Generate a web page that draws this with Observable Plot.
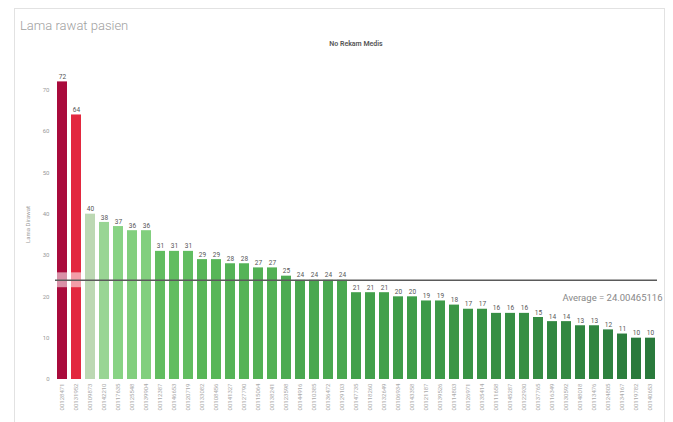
<!DOCTYPE html>
<html>
<head>
<meta charset="utf-8">
<script src="https://cdn.jsdelivr.net/npm/d3@7"></script>
<script src="https://cdn.jsdelivr.net/npm/@observablehq/plot@0.6"></script>
<style>
  html, body { margin: 0; padding: 0; background: #fff; }
  #wrap { position: relative; width: 673px; height: 422px; overflow: hidden; font-family: Roboto, "Open Sans", sans-serif; }
  #frame { position: absolute; left: 14px; top: 8px; width: 651px; height: 420px; border: 1px solid #e2e2e2; box-sizing: border-box; }
  #title { position: absolute; left: 20px; top: 18px; font-size: 13px; font-weight: 300; color: #a0a0a0; }
  #subtitle { position: absolute; left: 0; width: 712px; top: 40px; text-align: center; font-size: 7px; font-weight: 600; color: #555; }
  #chart { position: absolute; left: 0; top: 55px; }
</style>
</head>
<body>
<div id="wrap">
  <div id="frame"></div>
  <div id="title">Lama rawat pasien</div>
  <div id="subtitle">No Rekam Medis</div>
  <div id="chart"></div>
</div>
<script>
const categories = [
  "00128471","00131952","00109873","00142210","00117635","00125548","00139904",
  "00112387","00146653","00120719","00133082","00108456","00141327","00127790",
  "00115064","00138241","00123598","00144916","00110385","00136472","00129103",
  "00147735","00118260","00132649","00106934","00143358","00121187","00139526",
  "00114803","00126971","00135414","00111658","00145287","00122930","00137765",
  "00116349","00130592","00148018","00113476","00124805","00134167","00119782",
  "00140653"
];
const values = [
  72, 64, 40, 38, 37, 36, 36, 31, 31, 31, 29, 29, 28, 28, 27, 27, 25,
  24, 24, 24, 24, 21, 21, 21, 20, 20, 19, 19, 18, 17, 17, 16, 16, 16,
  15, 14, 14, 13, 13, 12, 11, 10, 10
];
const yTicks = [0, 10, 20, 30, 40, 50, 60, 70];
const averageValue = 24.00465116;
const averageLabel = "Average = 24.00465116";
const colorDomain = [10, 20, 30, 37, 40, 64, 72];
const colorRange = ["#2a7a3c", "#3f9d49", "#5bb95a", "#88d384", "#bcd8b3", "#e2283f", "#a90b3c"];

const data = categories.map((c, i) => ({id: c, value: values[i]}));

const chart = Plot.plot({
  width: 673,
  height: 367,
  marginLeft: 55,
  marginRight: 16,
  marginTop: 14,
  marginBottom: 43,
  style: {fontFamily: "Roboto, 'Open Sans', sans-serif", background: "transparent"},
  x: {domain: categories, paddingInner: 0.28, paddingOuter: 0.1},
  y: {domain: [0, 75]},
  color: {type: "linear", domain: colorDomain, range: colorRange},
  marks: [
    Plot.barY(data, {x: "id", y: "value", fill: "value"}),
    Plot.barY(data.slice(0, 2), {x: "id", y1: averageValue - 1.8, y2: averageValue + 1.8, fill: "#ffffff", fillOpacity: 0.55}),
    Plot.ruleY([averageValue], {stroke: "#5a5a5a", strokeWidth: 1.4}),
    Plot.text(data, {x: "id", y: "value", text: d => String(d.value), dy: -5, fontSize: 6.5, fill: "#555"}),
    Plot.text([averageLabel], {y: averageValue, frameAnchor: "right", textAnchor: "end", dx: 5, dy: 18, fontSize: 9.5, fill: "#888"}),
    Plot.axisY({ticks: yTicks, tickSize: 0, tickPadding: 6, fontSize: 6, color: "#999", label: "Lama Dirawat", labelAnchor: "center", labelArrow: "none", labelOffset: 30}),
    Plot.axisX({tickSize: 0, tickPadding: 4, tickRotate: -90, fontSize: 6, color: "#aaa", label: null})
  ]
});
document.getElementById("chart").appendChild(chart);
</script>
</body>
</html>
